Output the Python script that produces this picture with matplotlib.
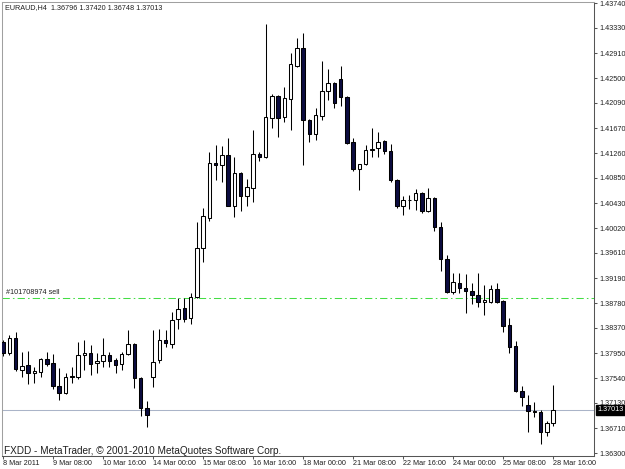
import matplotlib
matplotlib.use('Agg')
import matplotlib.pyplot as plt

W, H = 625, 469

SYMBOL = 'EURAUD,H4'

# H4 bars, 8 Mar 2011 00:00 .. 28 Mar 2011 16:00
opens = [
    1.38135, 1.37954, 1.38202, 1.37672, 1.37755, 1.37623, 1.37639, 1.37854,
    1.37788, 1.37408, 1.37292, 1.37573, 1.37557, 1.37920, 1.37954, 1.37788,
    1.37821, 1.37920, 1.37838, 1.37772, 1.37937, 1.38102, 1.37540, 1.37044,
    1.37557, 1.37838, 1.38168, 1.38102, 1.38516, 1.38698, 1.38532, 1.38879,
    1.39690, 1.40186, 1.41095, 1.41062, 1.41227, 1.40384, 1.40930, 1.40549,
    1.40682, 1.41244, 1.41194, 1.41839, 1.42203, 1.41856, 1.42153, 1.42699,
    1.42996, 1.41806, 1.41574, 1.41872, 1.42285, 1.42418, 1.42484, 1.42186,
    1.41442, 1.40996, 1.41078, 1.41310, 1.41343, 1.41459, 1.41293, 1.40814,
    1.40384, 1.40483, 1.40483, 1.40599, 1.40301, 1.40516, 1.40037, 1.39508,
    1.38962, 1.39111, 1.39028, 1.38979, 1.38912, 1.38797, 1.38797, 1.39012,
    1.38813, 1.38416, 1.38069, 1.37325, 1.37094, 1.36995, 1.36978, 1.36647,
    1.36796,
]
highs = [
    1.38168, 1.38251, 1.38301, 1.37970, 1.37987, 1.37722, 1.37871, 1.37970,
    1.37937, 1.37706, 1.37623, 1.37722, 1.38135, 1.38168, 1.38086, 1.37954,
    1.38202, 1.37970, 1.37871, 1.37970, 1.38334, 1.38119, 1.37557, 1.37160,
    1.38334, 1.38350, 1.38334, 1.38631, 1.38863, 1.38863, 1.38946, 1.40120,
    1.40351, 1.41277, 1.41393, 1.41376, 1.41508, 1.41194, 1.40946, 1.40830,
    1.41641, 1.41277, 1.43393, 1.42236, 1.42219, 1.42352, 1.42914, 1.43162,
    1.43244, 1.41822, 1.42004, 1.42781, 1.42649, 1.42434, 1.42699, 1.42203,
    1.41508, 1.41078, 1.41393, 1.41674, 1.41607, 1.41475, 1.41409, 1.40830,
    1.40549, 1.40566, 1.40665, 1.40616, 1.40682, 1.40533, 1.40120, 1.39574,
    1.39276, 1.39276, 1.39260, 1.39111, 1.39276, 1.39078, 1.39078, 1.39111,
    1.38830, 1.38532, 1.38152, 1.37408, 1.37259, 1.37143, 1.37011, 1.36829,
    1.37420,
]
lows = [
    1.37904, 1.37920, 1.37656, 1.37557, 1.37441, 1.37457, 1.37557, 1.37739,
    1.37358, 1.37176, 1.37276, 1.37457, 1.37524, 1.37672, 1.37590, 1.37623,
    1.37722, 1.37722, 1.37623, 1.37672, 1.37920, 1.37375, 1.36912, 1.36730,
    1.37391, 1.37788, 1.38053, 1.38036, 1.38350, 1.38466, 1.38433, 1.38863,
    1.39458, 1.40136, 1.40814, 1.40781, 1.40384, 1.40202, 1.40301, 1.40384,
    1.40450, 1.41128, 1.41178, 1.41674, 1.41525, 1.41773, 1.41641, 1.42682,
    1.41062, 1.41442, 1.41475, 1.41806, 1.42137, 1.42004, 1.42037, 1.41409,
    1.40963, 1.40649, 1.41062, 1.41194, 1.41194, 1.41244, 1.40781, 1.40351,
    1.40235, 1.40334, 1.40318, 1.40268, 1.40285, 1.39971, 1.39309, 1.38946,
    1.38929, 1.38946, 1.38615, 1.38764, 1.38714, 1.38582, 1.38780, 1.38780,
    1.38301, 1.37954, 1.37309, 1.37077, 1.36647, 1.36895, 1.36449, 1.36581,
    1.36748,
]
closes = [
    1.37954, 1.38202, 1.37689, 1.37739, 1.37623, 1.37656, 1.37854, 1.37772,
    1.37408, 1.37292, 1.37557, 1.37557, 1.37920, 1.37954, 1.37772, 1.37821,
    1.37920, 1.37821, 1.37755, 1.37937, 1.38102, 1.37540, 1.37044, 1.36928,
    1.37805, 1.38168, 1.38119, 1.38499, 1.38681, 1.38516, 1.38879, 1.39690,
    1.40219, 1.41095, 1.41062, 1.41227, 1.40384, 1.40930, 1.40549, 1.40698,
    1.41244, 1.41194, 1.41856, 1.42203, 1.41839, 1.42170, 1.42732, 1.42996,
    1.41806, 1.41574, 1.41889, 1.42285, 1.42418, 1.42087, 1.42186, 1.41426,
    1.40996, 1.41078, 1.41310, 1.41326, 1.41442, 1.41293, 1.40814, 1.40384,
    1.40483, 1.40483, 1.40599, 1.40301, 1.40516, 1.40037, 1.39508, 1.38962,
    1.39127, 1.39028, 1.38979, 1.38912, 1.38797, 1.38830, 1.39012, 1.38797,
    1.38400, 1.38053, 1.37325, 1.37226, 1.36995, 1.36978, 1.36647, 1.36796,
    1.37013,
]

time_labels = ['8 Mar 2011', '9 Mar 08:00', '10 Mar 16:00', '14 Mar 00:00',
               '15 Mar 08:00', '16 Mar 16:00', '18 Mar 00:00', '21 Mar 08:00',
               '22 Mar 16:00', '24 Mar 00:00', '25 Mar 08:00', '28 Mar 16:00']
time_label_bars = [0, 8, 16, 24, 32, 40, 48, 56, 64, 72, 80, 88]

price_ticks = [1.43740, 1.43330, 1.42910, 1.42500, 1.42090, 1.41670, 1.41260,
               1.40850, 1.40430, 1.40020, 1.39610, 1.39190, 1.38780, 1.38370,
               1.37950, 1.37540, 1.37130, 1.36710, 1.36300]

order_price = 1.38863
order_label = '#101708974 sell'

FS = 5.2
BEAR = '#0c0c40'

plt.rcParams['font.family'] = ['Liberation Sans', 'DejaVu Sans']

fig = plt.figure(figsize=(W / 100, H / 100), dpi=100)
ax = fig.add_axes([2 / W, 13 / H, 592 / W, 454 / H])
ax.set_xlim(-0.16, 94.56)
ax.set_ylim(1.36251, 1.43757)

# frame
for side in ('left', 'top'):
    ax.spines[side].set_color('#a0a0a0')
    ax.spines[side].set_linewidth(0.75)
ax.spines['top'].set_linestyle((0, (1, 1)))
for side in ('right', 'bottom'):
    ax.spines[side].set_color('#555555')
    ax.spines[side].set_linewidth(0.75)

# lines behind the candles
last_price = closes[-1]
ax.axhline(last_price, color='#aab4c8', lw=0.75, zorder=1)
ax.axhline(order_price, color='#44dd44', lw=0.75, ls=(0, (7, 3, 1.5, 3)), zorder=1)
ax.annotate(order_label, (0, order_price), xycoords=('axes fraction', 'data'),
            xytext=(3, 1.2), textcoords='offset points', fontsize=FS,
            color='#202020', va='bottom', ha='left')

# candles
idx = list(range(len(opens)))
ax.vlines(idx, lows, highs, colors='black', lw=0.75, zorder=2)
for i in idx:
    o, c = opens[i], closes[i]
    bull = c >= o
    ax.bar(i, abs(c - o), bottom=min(o, c), width=0.56,
           color='white' if bull else BEAR, edgecolor='black', lw=0.75, zorder=3)

# price scale
ax.yaxis.tick_right()
ax.set_yticks(price_ticks)
ax.set_yticklabels([f'{p:.5f}' for p in price_ticks])
ax.tick_params(axis='y', length=2.2, width=0.75, color='#555555', pad=1.5,
               labelsize=FS, labelcolor='#202020')

# time scale
ax.set_xticks(time_label_bars)
ax.set_xticklabels(time_labels, ha='left')
ax.tick_params(axis='x', length=2.2, width=0.75, color='#555555', pad=0.8,
               labelsize=FS, labelcolor='#202020')

# current price box
ax.text(1.006, last_price, f'{last_price:.5f}', transform=ax.get_yaxis_transform(),
        ha='left', va='center', fontsize=FS, color='white', clip_on=False, zorder=5,
        bbox=dict(boxstyle='square,pad=0.2', fc='black', ec='black'))

header = '{}  {:.5f} {:.5f} {:.5f} {:.5f}'.format(SYMBOL, opens[-1], highs[-1],
                                                  lows[-1], closes[-1])
fig.text(5 / W, 1 - 8 / H, header, fontsize=FS, va='center', ha='left', color='#202020')
fig.text(4 / W, 1 - 454 / H, 'FXDD - MetaTrader, \u00a9 2001-2010 MetaQuotes Software Corp.',
         fontsize=7.2, va='baseline', ha='left', color='#202020')

fig.savefig('out.png', dpi=100, facecolor='white')
